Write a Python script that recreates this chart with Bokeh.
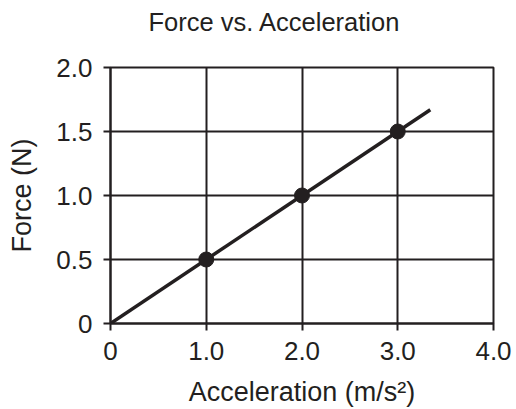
from bokeh.plotting import figure
from bokeh.models import Range1d, FixedTicker, Title
from bokeh.embed import file_html
from bokeh.resources import INLINE

# data
accel = [1.0, 2.0, 3.0]
force = [0.5, 1.0, 1.5]
fit_x = [0.0, 3.34]
fit_y = [0.0, 1.67]
x_ticks = [0, 1, 2, 3, 4]
x_tick_labels = ["0", "1.0", "2.0", "3.0", "4.0"]
y_ticks = [0, 0.5, 1.0, 1.5, 2.0]
y_tick_labels = ["0", "0.5", "1.0", "1.5", "2.0"]
title_text = "Force vs. Acceleration"

INK = "#231f20"
FONT = "Liberation Sans"

p = figure(frame_width=383, frame_height=256, output_backend="svg", toolbar_location=None,
           x_range=Range1d(0, 4), y_range=Range1d(0, 2), title=title_text,
           min_border_left=110, min_border_right=23, min_border_top=67, min_border_bottom=86)

p.title.align = "left"
p.title.offset = 38
p.title.standoff = 8
p.title.text_font = FONT
p.title.text_font_size = "25.5px"
p.title.text_font_style = "normal"
p.title.text_color = INK

# spacer between title and frame
p.add_layout(Title(text=" ", text_font_size="1px", standoff=25), "above")

p.outline_line_color = INK
p.outline_line_width = 2
p.outline_line_alpha = 1

for ax, ticks, labels in ((p.xaxis[0], x_ticks, x_tick_labels), (p.yaxis[0], y_ticks, y_tick_labels)):
    ax.ticker = FixedTicker(ticks=ticks)
    ax.major_label_overrides = {t: l for t, l in zip(ticks, labels)}
    ax.axis_line_color = INK
    ax.axis_line_width = 2
    ax.major_tick_line_color = INK
    ax.major_tick_line_width = 2
    ax.major_tick_out = 7
    ax.major_tick_in = 0
    ax.minor_tick_line_color = None
    ax.major_label_text_font = FONT
    ax.major_label_text_font_size = "26px"
    ax.major_label_text_color = INK
    ax.axis_label_text_font = FONT
    ax.axis_label_text_font_size = "27px"
    ax.axis_label_text_font_style = "normal"
    ax.axis_label_text_color = INK

p.xaxis.axis_label = "Acceleration (m/s²)"
p.yaxis.axis_label = "Force (N)"
p.xaxis.major_label_standoff = 11
p.yaxis.major_label_standoff = 11
p.xaxis.axis_label_standoff = 14
p.yaxis.axis_label_standoff = 16

p.grid.grid_line_color = INK
p.grid.grid_line_width = 2
p.grid.grid_line_alpha = 1
p.xgrid.ticker = FixedTicker(ticks=x_ticks)
p.ygrid.ticker = FixedTicker(ticks=y_ticks)

p.line(fit_x, fit_y, line_color=INK, line_width=3.5)
p.scatter(accel, force, size=15, fill_color=INK, line_color=INK)

open("out.html", "w").write(file_html(p, INLINE))
